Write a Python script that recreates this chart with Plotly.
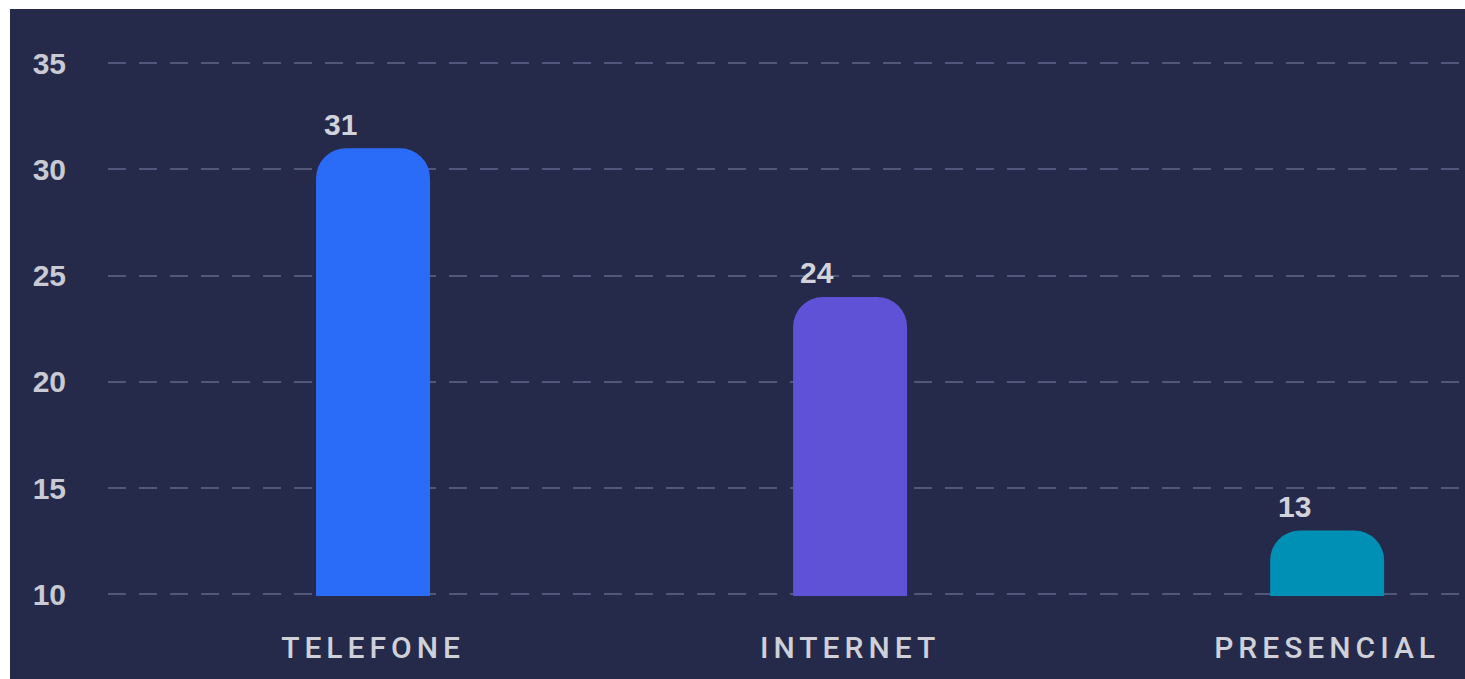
import plotly.graph_objects as go

categories = ["TELEFONE", "INTERNET", "PRESENCIAL"]
values = [31, 24, 13]
bar_colors = ["#2a6bf7", "#5f52d6", "#0190b5"]
y_ticks = [10, 15, 20, 25, 30, 35]

BG = "#252a4a"
W, H = 1465, 679
L, R, T, B = 108, 0, 60, 83
pw, ph = W - L - R, H - T - B

fig = go.Figure()
fig.add_trace(go.Bar(
    x=categories, y=values,
    marker=dict(color=bar_colors, line=dict(width=0)),
    width=0.239, hoverinfo="skip",
))

for c, v in zip(categories, values):
    fig.add_annotation(x=c, y=v, text=str(v), showarrow=False,
                       xshift=-33, yshift=24, yanchor="middle",
                       font=dict(family="Liberation Sans, Arial", size=30, color="#d2d3da", weight="bold"))

fig.add_shape(type="rect", xref="paper", yref="paper",
              x0=(10 - L) / pw, x1=1.05, y0=-0.3, y1=(H - B - 9) / ph,
              fillcolor=BG, line=dict(width=0), layer="below")

fig.update_layout(
    width=W, height=H,
    margin=dict(l=L, r=R, t=T, b=B),
    paper_bgcolor="white", plot_bgcolor=BG,
    showlegend=False, barcornerradius=30,
    xaxis=dict(range=[-0.5556, 2.289], showgrid=False, zeroline=False, showline=False,
               ticks="", ticklabelstandoff=31,
               tickfont=dict(family="Roboto", size=30, color="#cfd0d8", weight=500)),
    yaxis=dict(range=[9.92, 35.15], tickvals=y_ticks, showgrid=True, gridcolor="#50577a",
               gridwidth=2, griddash="18px,13px", zeroline=False, showline=False, ticks="",
               ticklabelstandoff=41,
               tickfont=dict(family="Liberation Sans, Arial", size=30, color="#c9cad3", weight="bold")),
)

post = ("document.body.style.margin='0';document.body.style.overflow='hidden';"
        "document.querySelectorAll('.xtick text').forEach(function(t){t.style.letterSpacing='5px';});")
fig.write_html("out.html", post_script=post, config={"displayModeBar": False})
